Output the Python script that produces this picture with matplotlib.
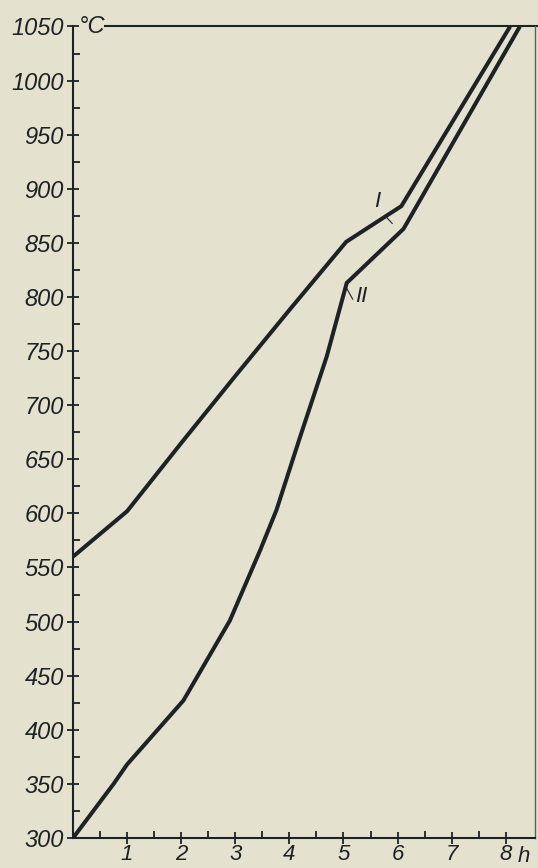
import matplotlib
matplotlib.use("Agg")
import matplotlib.pyplot as plt
import numpy as np

# Data
hours_I = [0, 1, 2, 3, 4, 5.05, 6.07, 8.08]
temp_I = [560, 602, 665, 727, 788, 851, 884, 1050]

hours_II = [0, 0.75, 1, 2.04, 2.9, 3.46, 3.76, 4.2, 4.69, 5.06, 6.11, 8.26]
temp_II = [300, 350, 368, 427, 501, 566, 603, 671, 745, 813, 863, 1050]

x_ticks = [1, 2, 3, 4, 5, 6, 7, 8]
y_ticks = list(range(300, 1051, 50))
y_tick_labels = [str(v) for v in y_ticks]

BG = "#e4e2cf"
INK = "#1c2226"
FONT = ["Liberation Sans Narrow", "Liberation Sans", "DejaVu Sans"]
plt.rcParams["font.family"] = FONT

fig = plt.figure(figsize=(5.38, 8.68), dpi=100, facecolor=BG)
ax = fig.add_axes([73 / 538, 30 / 868, (535 - 73) / 538, (838 - 26.5) / 868])
ax.set_facecolor(BG)

ax.plot(hours_I, temp_I, color=INK, lw=2.9, solid_joinstyle="miter", solid_capstyle="butt")
ax.plot(hours_II, temp_II, color=INK, lw=2.9, solid_joinstyle="miter", solid_capstyle="butt")

ax.set_xlim(0, 8.54)
ax.set_ylim(300, 1050)

ax.spines["top"].set_visible(False)
for s in ["left", "bottom"]:
    ax.spines[s].set_linewidth(1.5)
    ax.spines[s].set_color(INK)
ax.spines["right"].set_linewidth(1.0)
ax.spines["right"].set_color("#5a5f60")

# top reference line at 1050 (starts after the unit label, extends past the frame)
ax.plot([0.59, 8.7], [1050, 1050], color=INK, lw=1.5, clip_on=False)

ax.set_xticks(x_ticks)
ax.set_xticks(np.arange(0.5, 8.5, 0.5), minor=True)
ax.set_xticklabels([str(v) for v in x_ticks])
ax.set_yticks(y_ticks)
ax.set_yticklabels(y_tick_labels)
ax.set_yticks(np.arange(325, 1050, 50), minor=True)

ax.tick_params(axis="both", which="major", direction="inout", length=9, width=1.3,
               color=INK, labelsize=17, labelcolor=INK)
ax.tick_params(axis="both", which="minor", direction="in", length=5, width=1.3, color=INK)
ax.tick_params(axis="y", which="major", pad=2)
ax.tick_params(axis="x", which="major", pad=0, labelsize=16)
for lab in ax.get_xticklabels() + ax.get_yticklabels():
    lab.set_fontstyle("italic")

# unit labels
ax.text(0.1, 1050, "°C", fontsize=17, style="italic", color=INK, va="center", ha="left")
ax.text(8.21, 283, "h", fontsize=16, style="italic", color=INK, va="center", ha="left",
        clip_on=False)

# curve labels with leader lines
ax.text(5.62, 888, "I", fontsize=16, style="italic", color=INK, ha="center", va="center")
ax.plot([5.77, 5.9], [875, 868], color=INK, lw=0.8)
ax.text(5.32, 800, "II", fontsize=16, style="italic", color=INK, ha="center", va="center")
ax.plot([5.06, 5.17], [808, 798], color=INK, lw=0.8)

fig.savefig("out.png", dpi=100, facecolor=BG)
